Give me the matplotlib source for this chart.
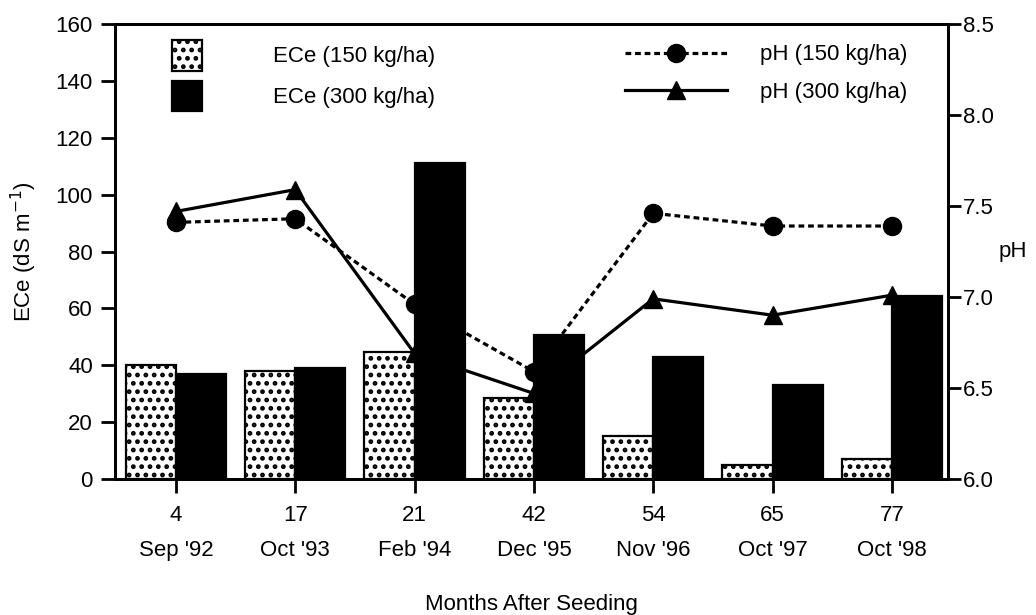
import numpy as np
import matplotlib
matplotlib.use("Agg")
import matplotlib.pyplot as plt

plt.rcParams['font.family'] = ['Liberation Sans', 'DejaVu Sans']
plt.rcParams['hatch.linewidth'] = 2.2

months = ["4", "17", "21", "42", "54", "65", "77"]
dates = ["Sep '92", "Oct '93", "Feb '94", "Dec '95", "Nov '96", "Oct '97", "Oct '98"]

ece_150 = [40, 38, 44.5, 28.5, 15, 4.8, 7]
ece_300 = [37, 39, 111, 50.5, 42.8, 33, 64.5]
ph_150 = [7.41, 7.43, 6.96, 6.59, 7.46, 7.39, 7.39]
ph_300 = [7.47, 7.59, 6.69, 6.47, 6.99, 6.90, 7.01]

fs = 16
x = np.arange(len(months))
w = 0.42

fig = plt.figure(figsize=(10.36, 6.15), dpi=100)
ax = fig.add_axes([115 / 1036, 1 - 479 / 615, (948 - 115) / 1036, (479 - 24) / 615])
ax2 = ax.twinx()

b1 = ax.bar(x - w / 2, ece_150, w, color='white', edgecolor='black',
            hatch='..', linewidth=1.6, label='ECe (150 kg/ha)')
b2 = ax.bar(x + w / 2, ece_300, w, color='black', edgecolor='black',
            linewidth=1.6, label='ECe (300 kg/ha)')

l1, = ax2.plot(x, ph_150, color='black', linestyle=(0, (1.8, 1.2)), linewidth=2.3,
               marker='o', markersize=13, label='pH (150 kg/ha)')
l2, = ax2.plot(x, ph_300, color='black', linestyle='-', linewidth=2.3,
               marker='^', markersize=13.5, label='pH (300 kg/ha)')

ax.set_xlim(-0.51, 6.47)
ax.set_ylim(0, 160)
ax2.set_ylim(6.0, 8.5)

ax.set_yticks(np.arange(0, 161, 20))
ax2.set_yticks([6.0, 6.5, 7.0, 7.5, 8.0, 8.5])
ax2.set_yticklabels(["6.0", "6.5", "7.0", "7.5", "8.0", "8.5"])
ax.set_xticks(x)
ax.set_xticklabels([m + "\n" + d for m, d in zip(months, dates)],
                   linespacing=1.85, fontsize=fs)

for a in (ax, ax2):
    for s in a.spines.values():
        s.set_linewidth(2.0)

ax.tick_params(axis='y', direction='out', length=10, width=2.0, pad=6, labelsize=fs)
ax.tick_params(axis='x', direction='out', length=10, width=2.0, pad=9, labelsize=fs)
ax2.tick_params(axis='y', direction='out', length=9, width=2.0, pad=1.5, labelsize=fs)

ax.set_ylabel('ECe (dS m$^{-1}$)', fontsize=fs, labelpad=12)
ax.set_xlabel('Months After Seeding', fontsize=fs, labelpad=24)
ax2.set_ylabel('pH', fontsize=fs, rotation=0, va='center', labelpad=14)

ax.legend(handles=[b1, b2], loc='upper left', bbox_to_anchor=(0.068, 0.965),
          frameon=False, fontsize=fs, borderpad=0, borderaxespad=0,
          handlelength=1.35, handleheight=1.75, handletextpad=3.2,
          labelspacing=0.45)
ax2.legend(handles=[l1, l2], loc='upper left', bbox_to_anchor=(0.612, 0.955),
           frameon=False, fontsize=fs, borderpad=0, borderaxespad=0,
           handlelength=4.6, handletextpad=1.5, labelspacing=0.75, numpoints=1)

fig.savefig('out.png', dpi=100)
